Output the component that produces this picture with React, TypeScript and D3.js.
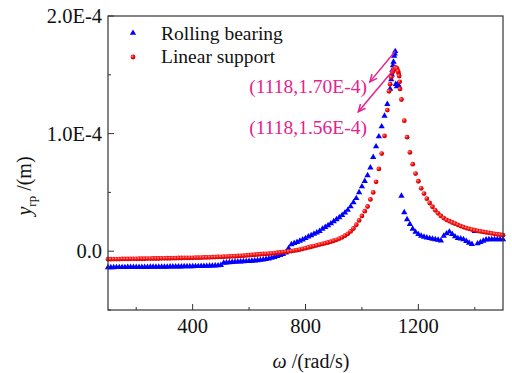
import React from "react";
import * as d3 from "d3";

// excitation frequency sweep (rad/s)
const omega = [
  100, 110, 120, 130, 140, 150, 160, 170, 180, 190, 200, 210, 220, 230, 240, 250, 260, 270, 280, 290,
  300, 310, 320, 330, 340, 350, 360, 370, 380, 390, 400, 410, 420, 430, 440, 450, 460, 470, 480, 490,
  500, 510, 520, 530, 540, 550, 560, 570, 580, 590, 600, 610, 620, 630, 640, 650, 660, 670, 680, 690,
  700, 710, 720, 730, 740, 750, 760, 770, 780, 790, 800, 810, 820, 830, 840, 850, 860, 870, 880, 890,
  900, 910, 920, 930, 940, 950, 960, 970, 980, 990, 1000, 1010, 1020, 1030, 1040, 1050, 1060, 1070, 1080, 1090,
  1100, 1110, 1120, 1130, 1140, 1150, 1160, 1170, 1180, 1190, 1200, 1210, 1220, 1230, 1240, 1250, 1260, 1270, 1280, 1290,
  1300, 1310, 1320, 1330, 1340, 1350, 1360, 1370, 1380, 1390, 1400, 1410, 1420, 1430, 1440, 1450, 1460, 1470, 1480, 1490,
  1500,
];

// y_rp in units of 1E-4 m
const rollingBearing = [
  -0.138, -0.138, -0.138, -0.137, -0.137, -0.137, -0.137, -0.136, -0.136, -0.136,
  -0.136, -0.135, -0.135, -0.135, -0.135, -0.134, -0.134, -0.134, -0.134, -0.133,
  -0.133, -0.133, -0.132, -0.132, -0.132, -0.131, -0.131, -0.13, -0.13, -0.129,
  -0.129, -0.128, -0.128, -0.127, -0.126, -0.126, -0.125, -0.124, -0.123, -0.122,
  -0.118, -0.1, -0.097, -0.095, -0.093, -0.091, -0.09, -0.089, -0.087, -0.086,
  -0.085, -0.083, -0.081, -0.078, -0.075, -0.072, -0.068, -0.063, -0.058, -0.051,
  -0.043, -0.034, -0.025, -0.012, 0.025, 0.058, 0.068, 0.077, 0.087, 0.098,
  0.11, 0.123, 0.135, 0.147, 0.158, 0.17, 0.19, 0.205, 0.22, 0.235,
  0.253, 0.27, 0.288, 0.307, 0.328, 0.35, 0.38, 0.415, 0.45, 0.5,
  0.55, 0.595, 0.645, 0.71, 0.8, 0.89, 0.975, 1.06, 1.15, 1.25,
  1.38, 1.58, 1.42, 1.41, 0.47, 0.33, 0.27, 0.23, 0.19, 0.163,
  0.144, 0.13, 0.121, 0.115, 0.11, 0.105, 0.1, 0.096, 0.09, 0.13,
  0.15, 0.165, 0.145, 0.125, 0.11, 0.107, 0.1, 0.085, 0.07, 0.06,
  0.17, 0.065, 0.076, 0.088, 0.098, 0.1, 0.1, 0.101, 0.101, 0.1,
  0.1,
];

const linearSupport = [
  -0.068, -0.068, -0.067, -0.067, -0.067, -0.066, -0.066, -0.066, -0.065, -0.065,
  -0.065, -0.064, -0.064, -0.064, -0.063, -0.063, -0.062, -0.062, -0.062, -0.061,
  -0.061, -0.06, -0.06, -0.059, -0.059, -0.058, -0.058, -0.057, -0.057, -0.056,
  -0.056, -0.055, -0.055, -0.054, -0.053, -0.053, -0.052, -0.051, -0.05, -0.049,
  -0.048, -0.047, -0.046, -0.045, -0.044, -0.043, -0.041, -0.04, -0.038, -0.036,
  -0.034, -0.032, -0.03, -0.028, -0.026, -0.024, -0.022, -0.02, -0.018, -0.016,
  -0.013, -0.011, -0.008, -0.005, -0.002, 0.001, 0.005, 0.009, 0.014, 0.02,
  0.026, 0.032, 0.038, 0.044, 0.05, 0.056, 0.062, 0.068, 0.074, 0.081,
  0.089, 0.097, 0.107, 0.118, 0.132, 0.148, 0.168, 0.193, 0.225, 0.262,
  0.3, 0.34, 0.38, 0.44, 0.5, 0.59, 0.7, 0.83, 0.98, 1.2,
  1.42, 1.53, 1.56, 1.51, 1.29, 1.11, 0.97, 0.84, 0.74, 0.66,
  0.595, 0.535, 0.49, 0.447, 0.41, 0.378, 0.348, 0.322, 0.3, 0.282,
  0.267, 0.255, 0.244, 0.234, 0.224, 0.214, 0.205, 0.197, 0.19, 0.184,
  0.178, 0.172, 0.168, 0.164, 0.16, 0.156, 0.152, 0.148, 0.144, 0.14,
  0.136,
];

// finer steps around the resonance peak
const bearingPeakOmega = [1104, 1106, 1108, 1112, 1114, 1116, 1118, 1124, 1127];
const bearingPeakValue = [1.46, 1.5, 1.54, 1.61, 1.66, 1.68, 1.7, 1.4, 1.42];
const linearPeakOmega = [1096, 1104, 1108, 1114, 1118, 1124, 1128, 1132, 1134, 1135];
const linearPeakValue = [1.36, 1.48, 1.52, 1.55, 1.56, 1.555, 1.53, 1.49, 1.44, 1.38];

const xMajorTicks = [400, 800, 1200];
const xMinorTicks = [200, 600, 1000, 1400];
const yMajorTicks = [0, 1, 2];
const yMinorTicks = [-0.5, 0.5, 1.5];
const yTickLabels = ["0.0", "1.0E-4", "2.0E-4"];

const annotations = [
  { label: "(1118,1.70E-4)", peak: [1118, 1.7], tip: [1028, 1.44], text: [1018, 1.345] },
  { label: "(1118,1.56E-4)", peak: [1118, 1.56], tip: [987, 1.186], text: [1018, 0.997] },
];

const W = 512;
const H = 373;
const margin = { top: 16, right: 9, bottom: 63, left: 108 };
const FONT = "Liberation Serif, DejaVu Serif, Times New Roman, serif";
const MAGENTA = "#e5228e";

const App = () => {
  const x = d3.scaleLinear().domain([100, 1500]).range([margin.left, W - margin.right]);
  const y = d3.scaleLinear().domain([-0.5, 2.0]).range([H - margin.bottom, margin.top]);

  const bearing = omega
    .map((w, i) => ({ w, v: rollingBearing[i] }))
    .concat(bearingPeakOmega.map((w, i) => ({ w, v: bearingPeakValue[i] })));
  const linear = omega
    .map((w, i) => ({ w, v: linearSupport[i] }))
    .concat(linearPeakOmega.map((w, i) => ({ w, v: linearPeakValue[i] })));

  const tri = d3.symbol(d3.symbolTriangle, 17)();
  const x0 = margin.left;
  const x1 = W - margin.right;
  const y0 = margin.top;
  const y1 = H - margin.bottom;

  const arrowHead = (from: number[], to: number[]) => {
    const fx = x(from[0]), fy = y(from[1]);
    const tx = x(to[0]), ty = y(to[1]);
    const a = Math.atan2(fy - ty, fx - tx);
    const len = 8, spread = 0.42;
    const p1 = [tx + len * Math.cos(a + spread), ty + len * Math.sin(a + spread)];
    const p2 = [tx + len * Math.cos(a - spread), ty + len * Math.sin(a - spread)];
    return `M${p1[0]},${p1[1]}L${tx},${ty}L${p2[0]},${p2[1]}`;
  };

  const txt = { fontFamily: FONT };

  return (
    <svg
      width={W}
      height={H}
      style={{ position: "absolute", left: 0, top: 0, background: "#fff", fontFamily: FONT }}
    >
      <defs>
        <radialGradient id="ball" cx="35%" cy="35%" r="65%">
          <stop offset="0%" stopColor="#ff9a9a" />
          <stop offset="45%" stopColor="#ff1010" />
          <stop offset="100%" stopColor="#c00000" />
        </radialGradient>
      </defs>

      {/* series */}
      <g fill="#0000ff">
        {bearing.map((d, i) => (
          <path key={i} d={tri} transform={`translate(${x(d.w)},${y(d.v)})`} />
        ))}
      </g>
      <g fill="url(#ball)">
        {linear.map((d, i) => (
          <circle key={i} cx={x(d.w)} cy={y(d.v)} r={2.4} />
        ))}
      </g>

      {/* frame */}
      <rect x={x0} y={y0} width={x1 - x0} height={y1 - y0} fill="none" stroke="#333" strokeWidth={1.2} />

      {/* ticks (inside) */}
      <g stroke="#333" strokeWidth={1}>
        {xMajorTicks.map((t) => (
          <line key={"xM" + t} x1={x(t)} x2={x(t)} y1={y1} y2={y1 - 6} />
        ))}
        {xMinorTicks.map((t) => (
          <line key={"xm" + t} x1={x(t)} x2={x(t)} y1={y1} y2={y1 - 3} />
        ))}
        {yMajorTicks.map((t) => (
          <line key={"yM" + t} x1={x0} x2={x0 + 6} y1={y(t)} y2={y(t)} />
        ))}
        {yMinorTicks.map((t) => (
          <line key={"ym" + t} x1={x0} x2={x0 + 3} y1={y(t)} y2={y(t)} />
        ))}
      </g>

      {/* tick labels */}
      <g fontSize={20.5} fill="#111" style={txt}>
        {xMajorTicks.map((t) => (
          <text key={"xl" + t} x={x(t)} y={y1 + 23} textAnchor="middle" style={txt}>
            {t}
          </text>
        ))}
        {yMajorTicks.map((t, i) => (
          <text key={"yl" + t} x={x0 - 6} y={y(t) + 7} textAnchor="end" style={txt}>
            {yTickLabels[i]}
          </text>
        ))}
      </g>

      {/* axis titles */}
      <text x={311} y={368} fontSize={20} textAnchor="middle" fill="#111" style={txt}>
        <tspan fontStyle="italic">ω</tspan> /(rad/s)
      </text>
      <text transform="translate(31,186) rotate(-90)" fontSize={20} textAnchor="middle" fill="#111" style={txt}>
        <tspan fontStyle="italic">y</tspan>
        <tspan fontSize={13} dy={5}>rp</tspan>
        <tspan dy={-5}> /(m)</tspan>
      </text>

      {/* legend */}
      <path d={tri} transform="translate(133,33)" fill="#0000ff" />
      <circle cx={133} cy={57} r={2.4} fill="url(#ball)" />
      <g fontSize={19.5} fill="#111">
        <text x={161} y={40} style={txt}>Rolling bearing</text>
        <text x={161} y={63} style={txt}>Linear support</text>
      </g>

      {/* annotations */}
      <g stroke={MAGENTA} strokeWidth={1.5} fill="none">
        {annotations.map((a, i) => (
          <g key={i}>
            <line x1={x(a.peak[0])} y1={y(a.peak[1])} x2={x(a.tip[0])} y2={y(a.tip[1])} />
            <path d={arrowHead(a.peak, a.tip)} />
          </g>
        ))}
      </g>
      <g fontSize={19.5} fill={MAGENTA}>
        {annotations.map((a, i) => (
          <text key={i} x={x(a.text[0])} y={y(a.text[1])} textAnchor="end" style={txt}>
            {a.label}
          </text>
        ))}
      </g>
    </svg>
  );
};

export default App;
